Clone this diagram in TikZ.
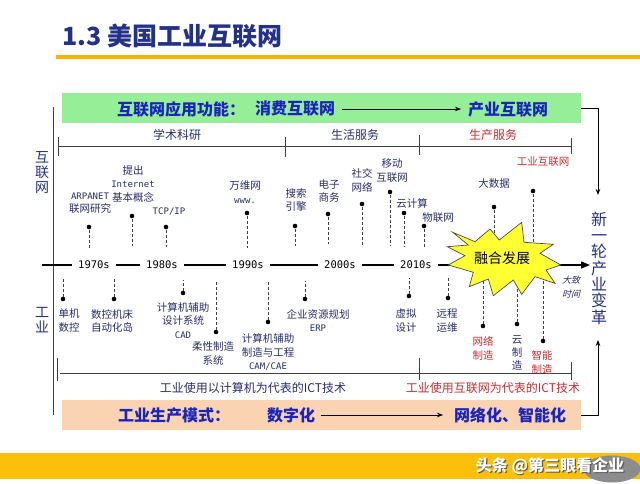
\documentclass[tikz,border=0pt]{standalone}
\usepackage{fontspec}
\setmainfont{Noto Sans CJK SC}
\newfontfamily\monof{DejaVu Sans Mono}
\newfontfamily\slantf{Noto Sans CJK SC}[FakeSlant=0.25]
\usetikzlibrary{arrows.meta,shapes.geometric}

\definecolor{titleblue}{RGB}{35,50,135}
\definecolor{barblue}{RGB}{25,35,190}
\definecolor{labnavy}{RGB}{40,45,110}
\definecolor{labred}{RGB}{205,45,45}
\definecolor{bargreen}{RGB}{150,238,150}
\definecolor{barpeach}{RGB}{250,212,178}
\definecolor{goldline}{RGB}{244,182,0}
\definecolor{bandyellow}{RGB}{252,192,10}
\definecolor{staryellow}{RGB}{255,255,50}

\newcommand{\latn}[1]{{\monof\fontsize{9}{13.3}\selectfont #1}}

\tikzset{
  evdot/.style={circle,fill=black,inner sep=0pt,minimum size=4.6pt},
  evline/.style={black!75,line width=0.9pt,dash pattern=on 3pt off 2pt},
  evlabel/.style={text=labnavy,align=center,inner sep=0pt,font=\fontsize{10.5}{13.3}\selectfont},
  evred/.style={evlabel,text=labred},
  decade/.style={fill=white,inner xsep=6pt,inner ysep=1pt,font=\monof\fontsize{10.5}{12}\selectfont},
  bracket/.style={black!75,line width=0.8pt},
  brlabel/.style={inner sep=0pt,text=labnavy,font=\fontsize{12}{14}\selectfont},
  bartext/.style={inner sep=0pt,anchor=west,text=barblue,font=\bfseries\fontsize{16}{18}\selectfont},
  sidetext/.style={inner sep=0pt,align=center,text=titleblue},
  thinarrow/.style={-{Stealth[length=6pt,width=4.5pt]},black,line width=0.8pt},
}

\begin{document}
\begin{tikzpicture}[x=1pt,y=-1pt]

  % page
  \fill[white] (0,0) rectangle (640,484);
  \useasboundingbox (0,0) rectangle (640,484);

  % title and gold rule
  \node[anchor=west,inner sep=0pt,text=titleblue,font=\bfseries\fontsize{25}{28}\selectfont] (title) at (62,36) {1.3 美国工业互联网};
  \fill[goldline] (56,55) rectangle (640,59);

  % top and bottom bars
  \node[fill=bargreen,minimum width=519pt,minimum height=30pt,inner sep=0pt] (greenbar) at (321.5,108) {};
  \node[fill=barpeach,minimum width=519pt,minimum height=30pt,inner sep=0pt] (peachbar) at (321.5,415) {};

  \node[bartext] (func) at (117,109) {互联网应用功能：};
  \node[bartext] (consnet) at (255,109) {消费互联网};
  \node[bartext] (indnet) at (468,109) {产业互联网};
  \draw[thinarrow,shorten <=7pt,shorten >=7pt] (consnet) -- (indnet);

  \node[bartext] (mode) at (118,415) {工业生产模式：};
  \node[bartext] (digit) at (267,415) {数字化};
  \node[bartext] (smartnet) at (454,415) {网络化、智能化};
  \draw[thinarrow,shorten <=6pt,shorten >=11pt] (digit) -- (smartnet);

  % outer frame: left line, right arrows
  \coordinate (lefttop) at (53,107);
  \coordinate (leftbot) at (53,415);
  \draw[bracket] (lefttop) -- (leftbot);
  \coordinate (topin) at (598,195);
  \coordinate (botin) at (598,340);
  \draw[thinarrow] (greenbar.east) -| (topin);
  \draw[thinarrow] (peachbar.east) -| (botin);

  % upper bracket
  \draw[bracket] (58,146) -- (571,146);
  \foreach \x/\a/\b in {58/137/156, 285/137/157, 419/135/155, 571/138/154}
    \draw[bracket] (\x,\a) -- (\x,\b);
  \node[brlabel] (acad) at (177,135) {学术科研};
  \node[brlabel] (life) at (355,135) {生活服务};
  \node[brlabel,text=labred] (prod) at (493,135) {生产服务};

  % lower bracket
  \draw[bracket] (60,373) -- (571,373);
  \foreach \x/\a/\b in {57/358/381, 419/358/380, 571/362/380}
    \draw[bracket] (\x,\a) -- (\x,\b);
  \node[brlabel] (ictpc) at (253,388) {工业使用以计算机为代表的ICT技术};
  \node[brlabel,text=labred] (ictnet) at (493,388) {工业使用互联网为代表的ICT技术};

  % event markers
  \foreach \n/\x/\yd/\ye in {arpa/89/227/248, inet/132/216/246, tcp/166/227/247,
      www/247/213/248, search/295/226/246, ecom/328/214/244, social/362/204/245,
      mobile/390/192/246, cloud/404/213/247, iot/424/226/248, bigdata/494/207/252,
      iiot/533/191/252, nc/63/299/279, cnc/114/299/279, cad/183/293/280,
      flex/216/332/280, cam/268/322/280, erp/305/299/281, vd/409/296/278,
      rom/448/298/278, netm/483/326/278, cloudm/517/324/278, smart/543/341/275}
  {
    \node[evdot] (\n) at (\x,\yd) {};
    \coordinate (\n-ax) at (\x,\ye);
    \draw[evline] (\n) -- (\n-ax);
  }

  % time axis
  \coordinate (axisL) at (42,265);
  \coordinate (axisR) at (590,265);
  \draw[line width=1.6pt,-{Triangle[length=9pt,width=7pt]}] (axisL) -- (axisR);
  \node[decade] (y1970) at (94,265) {1970s};
  \node[decade] (y1980) at (162,265) {1980s};
  \node[decade] (y1990) at (248,265) {1990s};
  \node[decade] (y2000) at (340,265) {2000s};
  \node[decade] (y2010) at (416,265) {2010s};
  \node[text=labnavy,align=center,inner sep=0pt,font=\slantf\fontsize{9}{14}\selectfont] (approx) at (571,287) {大致\\时间};

  % internet labels
  \node[evlabel] (arpa-t) at (90,203.5) {\latn{ARPANET}\\联网研究};
  \node[evlabel] (inet-t) at (133,184) {提出\\\latn{Internet}\\基本概念};
  \node[evlabel] (tcp-t) at (169,212) {\latn{TCP/IP}};
  \node[evlabel] (www-t) at (245,192) {万维网\\\latn{www.}};
  \node[evlabel] (search-t) at (296,200) {搜索\\引擎};
  \node[evlabel] (ecom-t) at (329,191) {电子\\商务};
  \node[evlabel] (social-t) at (362,180.5) {社交\\网络};
  \node[evlabel] (mobile-t) at (392,170.5) {移动\\互联网};
  \node[evlabel] (cloud-t) at (412,203) {云计算};
  \node[evlabel] (iot-t) at (438,218) {物联网};
  \node[evlabel] (bigdata-t) at (494,184) {大数据};
  \node[evred] (iiot-t) at (543,162) {工业互联网};

  % industry labels
  \node[evlabel] (nc-t) at (69,320.5) {单机\\数控};
  \node[evlabel] (cnc-t) at (112,321) {数控机床\\自动化岛};
  \node[evlabel] (cad-t) at (183,320.5) {计算机辅助\\设计系统\\\latn{CAD}};
  \node[evlabel] (flex-t) at (213,353.5) {柔性制造\\系统};
  \node[evlabel] (cam-t) at (268,352) {计算机辅助\\制造与工程\\\latn{CAM/CAE}};
  \node[evlabel] (erp-t) at (318,320.5) {企业资源规划\\\latn{ERP}};
  \node[evlabel] (vd-t) at (406,320.5) {虚拟\\设计};
  \node[evlabel] (rom-t) at (447,320.5) {远程\\运维};
  \node[evred] (netm-t) at (483,348.5) {网络\\制造};
  \node[evlabel] (cloudm-t) at (517,353) {云\\制\\造};
  \node[evred] (smart-t) at (542,362.5) {智能\\制造};

  % starburst
  \draw[fill=staryellow,draw=black!70,line width=0.7pt]
    (452.7,232.3) -- (475,241.7) -- (490,229) -- (499.3,240) -- (521.7,222.3)
    -- (524,242.3) -- (553.3,244.3) -- (540,253.3) -- (560.7,265) -- (546,270)
    -- (555,283.3) -- (535,276.7) -- (521.7,294.3) -- (513.3,280) -- (493.3,295.7)
    -- (488.3,279) -- (469.3,286.7) -- (473.3,272.3) -- (448.3,265) -- (465,255.7)
    -- (447.3,246.7) -- (468.3,245) -- cycle;
  \node[inner sep=0pt,text=black!85!blue,font=\fontsize{14}{16}\selectfont] (fusion) at (502,258) {融合发展};

  % side labels
  \node[sidetext,font=\fontsize{14}{14.8}\selectfont] (netside) at (42,172.5) {互\\联\\网};
  \node[sidetext,font=\fontsize{14}{15}\selectfont] (indside) at (42,320.5) {工\\业};
  \node[sidetext,font=\fontsize{16}{16.3}\selectfont] (newrev) at (599,268) {新\\一\\轮\\产\\业\\变\\革};

  % footer band
  \fill[bandyellow] (0,453) rectangle (640,479);
  \node[ellipse,fill=black!45,minimum width=57pt,minimum height=27pt,inner sep=0pt] (wmoval) at (612,469) {};
  \node[text=black!65,font=\bfseries\fontsize{16}{18}\selectfont] (wmshadow) at (551.2,467.2) {头条 @第三眼看企业};
  \node[text=white,font=\bfseries\fontsize{16}{18}\selectfont] (wm) at (550,466) {头条 @第三眼看企业};

\end{tikzpicture}
\end{document}
